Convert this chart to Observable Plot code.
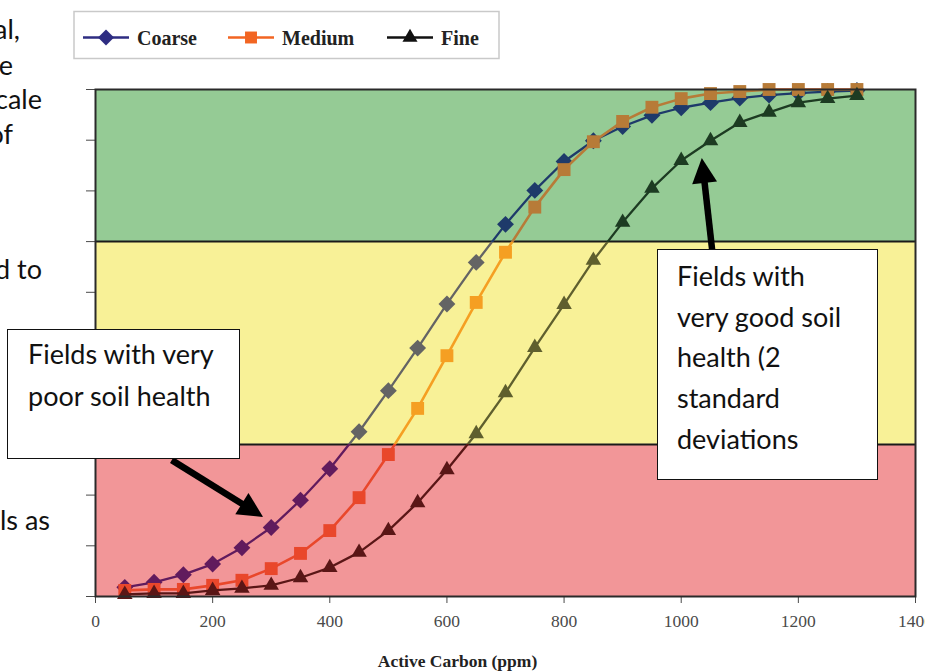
<!DOCTYPE html>
<html>
<head>
<meta charset="utf-8">
<script src="https://cdn.jsdelivr.net/npm/d3@7"></script>
<script src="https://cdn.jsdelivr.net/npm/@observablehq/plot@0.6"></script>
<style>
  body { margin: 0; background: #fff; }
  #wrap { position: relative; width: 925px; height: 671px; overflow: hidden; }
  #wrap > svg { position: absolute; left: 0; top: 0; }
  .frag { position: absolute; font-family: Lato, "Open Sans", sans-serif; font-size: 27px; line-height: 1.2; color: #111; white-space: nowrap; text-align: right; }
  .box { position: absolute; box-sizing: border-box; background: #fff; border: 1.6px solid #111; font-family: Lato, "Open Sans", sans-serif; font-size: 27px; color: #111; white-space: nowrap; }
  #xlabel { position: absolute; left: 0; width: 915px; top: 651px; text-align: center; font-family: "Liberation Serif", "Times New Roman", serif; font-weight: bold; font-size: 17.5px; color: #222; }
</style>
</head>
<body>
<div id="wrap"></div>
<script>
// ---------- data ----------
const xValues = [50,100,150,200,250,300,350,400,450,500,550,600,650,700,750,800,850,900,950,1000,1050,1100,1150,1200,1250,1300];
const coarse  = [1.8,2.8,4.3,6.4,9.6,13.6,19.0,25.2,32.5,40.6,49.0,57.7,65.9,73.4,80.1,85.8,89.9,92.7,94.9,96.4,97.4,98.3,98.9,99.3,99.6,99.8];
const medium  = [1.2,1.4,1.4,2.2,3.2,5.5,8.5,13.0,19.5,28.0,37.1,47.5,58.0,67.9,76.8,84.2,89.7,93.7,96.5,98.2,99.2,99.6,100,100,100,100];
const fine    = [0.4,0.6,0.6,1.2,1.6,2.2,3.7,5.7,8.7,13.0,18.5,25.0,32.1,40.2,49.1,57.6,66.3,73.8,80.5,86.0,89.9,93.5,95.5,97.4,98.2,98.8];
const seriesNames = ["Coarse","Medium","Fine"];
const seriesValues = [coarse, medium, fine];
const seriesSymbols = ["diamond2","square2","triangle2"];
const xTicks = [0,200,400,600,800,1000,1200,1400];
const yTicks = [0,10,20,30,40,50,60,70,80,90,100];
const bandNames = ["poor","fair","good"];
const bandBreaks = [0,30,70,100];
const bandFills = ["#f29698","#f8f197","#95cb95"];
// series colour: [outside, poor band, fair band, good band]
const seriesColors = {
  Coarse: ["#2e2d82","#611b5d","#646464","#1e3a6a"],
  Medium: ["#f26522","#e9472b","#f59f22","#b77b38"],
  Fine:   ["#111111","#5a1616","#5f5f2e","#1d3b22"]
};
const legendLabels = ["Coarse","Medium","Fine"];
const xLabel = "Active Carbon (ppm)";
const leftBoxLines = ["Fields with very","poor soil health"];
const rightBoxLines = ["Fields with","very good soil","health (2","standard","deviations"];
// annotation arrows in data units: [fromX, fromY, toX, toY]
const arrowsData = [[131,26.8,287,15.6],[1055,66.9,1036,86.4]];
// clipped text fragments from surrounding document: [text, right edge px, baseline px]
const fragments = [["al,",20,42],["e",13,78],["cale",42,112],["of",13,147],["d to",42,282],["ls as",50,533]];

// ---------- build rows ----------
const rows = [];
seriesNames.forEach((s, i) => xValues.forEach((x, j) => rows.push({series: s, x, y: seriesValues[i][j]})));
const bands = bandNames.map((b, i) => ({name: b, y1: bandBreaks[i], y2: bandBreaks[i + 1], fill: bandFills[i]}));
function bandIndex(v) { return v < 30 ? 1 : v < 70 ? 2 : 3; }

const W = 925, H = 671, mL = 95, mR = 10, mT = 89, mB = 75;
const symbolR = {Coarse: 7.6, Medium: 8.2, Fine: 7.4};

const marks = [
  Plot.rect(bands, {x1: 0, x2: 1400, y1: "y1", y2: "y2", fill: "fill"}),
  Plot.ruleY([30, 70], {stroke: "#1a1a1a", strokeWidth: 2})
];
seriesNames.forEach((s, i) => {
  const data = rows.filter(d => d.series === s);
  marks.push(Plot.line(data, {x: "x", y: "y", stroke: `url(#grad-${s})`, strokeWidth: s === "Medium" ? 2.6 : 2.3}));
  marks.push(Plot.dot(data, {
    x: "x", y: "y", symbol: seriesSymbols[i], r: symbolR[s],
    fill: d => seriesColors[s][bandIndex(d.y)], stroke: "none"
  }));
});
marks.push(Plot.frame({stroke: "#2a2a2a", strokeWidth: 2}));

const chart = Plot.plot({
  width: W, height: H,
  marginLeft: mL, marginRight: mR, marginTop: mT, marginBottom: mB,
  style: {fontFamily: "'Liberation Serif', 'Times New Roman', serif", fontSize: "17.5px", color: "#4a4a4a", background: "transparent", overflow: "hidden"},
  x: {domain: [0, 1400], ticks: xTicks, tickSize: 7, tickPadding: 11, label: null, tickFormat: d => String(d)},
  y: {domain: [0, 100], ticks: yTicks, tickSize: 9, tickFormat: () => "", label: null},
  color: {type: "identity"},
  marks
});

const wrap = document.getElementById("wrap");
wrap.appendChild(chart);

// scale helpers
let xs, ys;
try { xs = chart.scale("x"); ys = chart.scale("y"); } catch (e) {}
const xPix = v => (xs && xs.apply) ? xs.apply(v) : mL + (W - mL - mR) * v / 1400;
const yPix = v => (ys && ys.apply) ? ys.apply(v) : mT + (H - mT - mB) * (1 - v / 100);

// gradients for lines (colour changes exactly at band edges)
const svgSel = d3.select(chart);
const defs = svgSel.insert("defs", ":first-child");
seriesNames.forEach(s => {
  const c = seriesColors[s];
  const top = yPix(100) - 20, bot = yPix(0) + 20;
  const off = v => (yPix(v) - top) / (bot - top);
  const g = defs.append("linearGradient").attr("id", "grad-" + s)
    .attr("gradientUnits", "userSpaceOnUse").attr("x1", 0).attr("x2", 0).attr("y1", top).attr("y2", bot);
  const stops = [[0,c[0]],[off(100),c[0]],[off(100),c[3]],[off(70),c[3]],[off(70),c[2]],[off(30),c[2]],[off(30),c[1]],[off(0),c[1]],[off(0),c[0]],[1,c[0]]];
  stops.forEach(([o, col]) => g.append("stop").attr("offset", o).attr("stop-color", col));
});

// ---------- x label ----------
const xl = document.createElement("div");
xl.id = "xlabel"; xl.textContent = xLabel;
wrap.appendChild(xl);

// ---------- legend ----------
const leg = d3.select(wrap).append("svg").attr("width", W).attr("height", 70).style("left", 0).style("top", 0);
leg.append("rect").attr("x", 74).attr("y", 11.5).attr("width", 425).attr("height", 47).attr("fill", "#fff").attr("stroke", "#c9c9c9").attr("stroke-width", 1.5);
const legX = [83, 228, 387];
const legR = [7.2, 7.6, 7.2];
legendLabels.forEach((lab, i) => {
  const x0 = legX[i], cy = 37.5, col = seriesColors[lab][0];
  leg.append("line").attr("x1", x0).attr("x2", x0 + 46).attr("y1", cy).attr("y2", cy).attr("stroke", col).attr("stroke-width", 2.6);
  const sym = [d3.symbolDiamond2, d3.symbolSquare2, d3.symbolTriangle2][i];
  leg.append("path").attr("d", d3.symbol(sym, Math.PI * legR[i] * legR[i])()).attr("transform", `translate(${x0 + 23},${cy})`).attr("fill", col);
  leg.append("text").attr("x", x0 + 54).attr("y", 45).attr("font-family", "'Liberation Serif', 'Times New Roman', serif")
    .attr("font-weight", "bold").attr("font-size", 20).attr("fill", "#222").text(lab);
});

// ---------- arrows ----------
const ov = d3.select(wrap).append("svg").attr("width", W).attr("height", H).style("left", 0).style("top", 0).style("pointer-events", "none");
arrowsData.forEach(([fx, fy, tx, ty]) => {
  const x1 = xPix(fx), y1 = yPix(fy), x2 = xPix(tx), y2 = yPix(ty);
  const dx = x2 - x1, dy = y2 - y1, L = Math.hypot(dx, dy), ux = dx / L, uy = dy / L;
  const hl = 25, hw = 12.5;
  const bx = x2 - ux * hl, by = y2 - uy * hl;
  ov.append("line").attr("x1", x1).attr("y1", y1).attr("x2", bx + ux * 2).attr("y2", by + uy * 2).attr("stroke", "#000").attr("stroke-width", 6.5);
  ov.append("path").attr("d", `M${x2},${y2}L${bx - uy * hw},${by + ux * hw}L${bx + uy * hw},${by - ux * hw}Z`).attr("fill", "#000");
});

// ---------- annotation boxes ----------
function addBox(left, top, width, height, lines, padLeft, padTop, lh) {
  const b = document.createElement("div");
  b.className = "box";
  Object.assign(b.style, {left: left + "px", top: top + "px", width: width + "px", height: height + "px", paddingLeft: padLeft + "px", paddingTop: padTop + "px", lineHeight: lh + "px"});
  lines.forEach((t, i) => { if (i) b.appendChild(document.createElement("br")); b.appendChild(document.createTextNode(t)); });
  wrap.appendChild(b);
}
addBox(7, 329, 233, 130, leftBoxLines, 20, 3, 42);
addBox(657, 249, 221, 231, rightBoxLines, 19, 6, 40.7);

// ---------- clipped document text ----------
fragments.forEach(([t, right, base]) => {
  const d = document.createElement("div");
  d.className = "frag"; d.textContent = t;
  Object.assign(d.style, {left: (right - 300) + "px", width: "300px", top: (base - 0.987 * 27 - 0.1 * 27) + "px"});
  wrap.appendChild(d);
});
</script>
</body>
</html>
